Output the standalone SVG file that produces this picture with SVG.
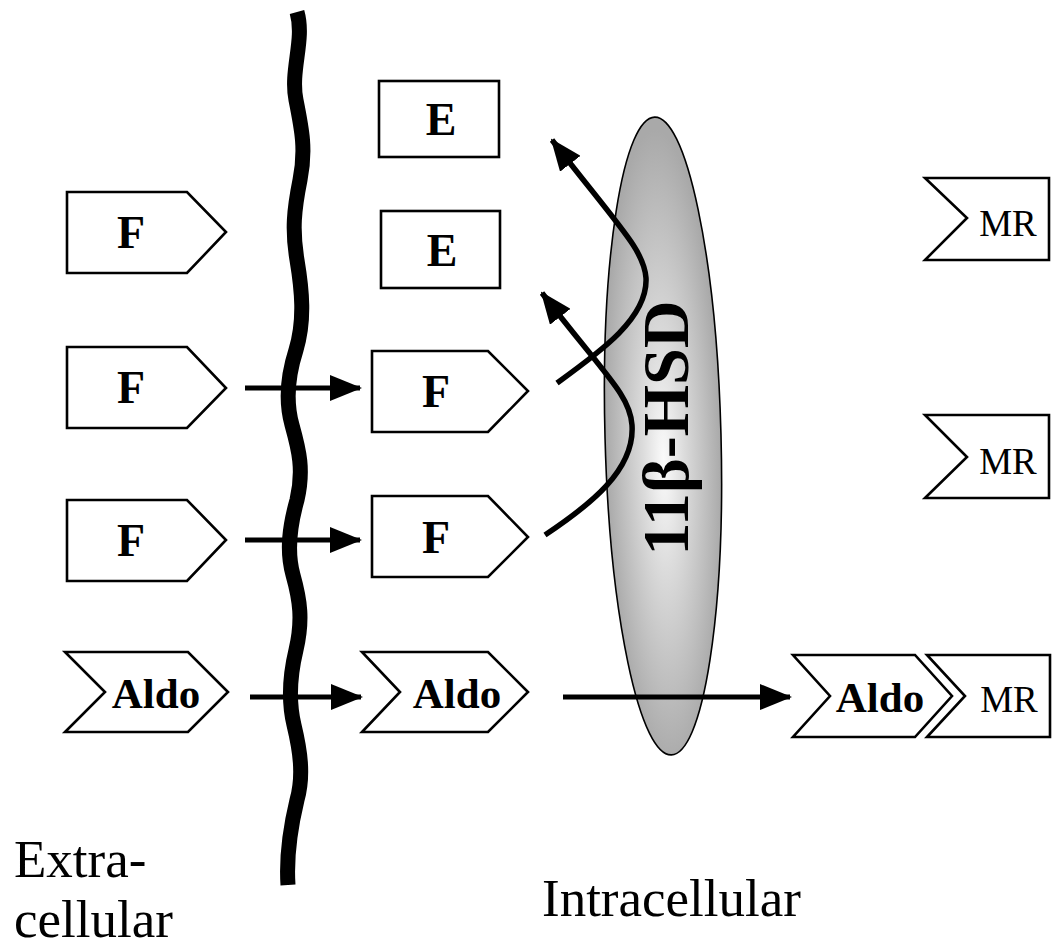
<svg xmlns="http://www.w3.org/2000/svg" width="1056" height="947" viewBox="0 0 1056 947">
  <defs>
    <radialGradient id="enzymeFill" cx="0.5" cy="0.52" r="0.5" fx="0.5" fy="0.54">
      <stop offset="0" stop-color="#fbfbfb"/>
      <stop offset="0.35" stop-color="#dcdcdc"/>
      <stop offset="0.75" stop-color="#bdbdbd"/>
      <stop offset="1" stop-color="#a9a9a9"/>
    </radialGradient>
    <marker id="head" markerUnits="userSpaceOnUse" markerWidth="32" markerHeight="26" viewBox="0 0 32 26" refX="30" refY="13" orient="auto">
      <path d="M0,0 L32,13 L0,26 Z" fill="#000"/>
    </marker>
  </defs>
  <style>
    .shape { fill: #fff; stroke: #000; stroke-width: 2.6; stroke-linejoin: miter; }
    .bold { font-family: "Liberation Serif", "Times New Roman", serif; font-weight: bold; font-size: 43px; fill: #000; text-anchor: middle; }
    .letter { font-size: 46px; }
    .reg { font-family: "Liberation Serif", "Times New Roman", serif; font-size: 37px; fill: #000; text-anchor: middle; }
    .big { font-family: "Liberation Serif", "Times New Roman", serif; font-size: 53px; fill: #000; }
    .arrow { fill: none; stroke: #000; stroke-width: 5; }
    .curve { fill: none; stroke: #000; stroke-width: 5.5; }
  </style>
  <rect width="1056" height="947" fill="#fff"/>

  <!-- cell membrane -->
  <path id="membrane" d="M297,12 C305,40 290,70 296,100 C302,130 306,150 300,180 C294,210 292,230 297,260 C302,290 305,320 296,350 C288,375 285,400 292,425 C299,450 304,470 297,500 C290,525 286,550 293,575 C300,600 303,620 296,650 C290,675 288,700 294,725 C300,750 304,775 297,800 C291,825 286,855 288,885" fill="none" stroke="#000" stroke-width="15"/>

  <!-- enzyme -->
  <g id="enzyme">
    <ellipse cx="663" cy="436" rx="58" ry="319" transform="rotate(-1.5 663 436)" fill="url(#enzymeFill)" stroke="#000" stroke-width="1.6"/>
  </g>

  <!-- extracellular steroids -->
  <g id="f-out-1">
    <polygon class="shape" points="67,192 187,192 226,232 187,273 67,273"/>
    <text class="bold letter" x="131" y="248">F</text>
  </g>
  <g id="f-out-2">
    <polygon class="shape" points="67,347 187,347 226,388 187,428 67,428"/>
    <text class="bold letter" x="131" y="403">F</text>
  </g>
  <g id="f-out-3">
    <polygon class="shape" points="67,500 187,500 226,540 187,581 67,581"/>
    <text class="bold letter" x="131" y="556">F</text>
  </g>
  <g id="aldo-out">
    <polygon class="shape" points="65,652 188,652 228,692 188,732 65,732 105,692"/>
    <text class="bold" x="156" y="708">Aldo</text>
  </g>

  <!-- intracellular steroids -->
  <g id="e-1">
    <rect class="shape" x="379" y="81" width="120" height="76"/>
    <text class="bold letter" x="441" y="135">E</text>
  </g>
  <g id="e-2">
    <rect class="shape" x="381" y="211" width="119" height="77"/>
    <text class="bold letter" x="442" y="266">E</text>
  </g>
  <g id="f-in-2">
    <polygon class="shape" points="372,351 488,351 528,391 488,432 372,432"/>
    <text class="bold letter" x="436" y="407">F</text>
  </g>
  <g id="f-in-3">
    <polygon class="shape" points="372,496 488,496 528,537 488,577 372,577"/>
    <text class="bold letter" x="436" y="553">F</text>
  </g>
  <g id="aldo-in">
    <polygon class="shape" points="362,652 488,652 528,692 488,732 362,732 400,692"/>
    <text class="bold" x="457" y="708">Aldo</text>
  </g>

  <!-- receptors -->
  <g id="mr-1">
    <polygon class="shape" points="925,178 1049,178 1049,260 925,260 967,218"/>
    <text class="reg" x="1008" y="236">MR</text>
  </g>
  <g id="mr-2">
    <polygon class="shape" points="925,415 1049,415 1049,498 925,498 967,457"/>
    <text class="reg" x="1008" y="474">MR</text>
  </g>
  <g id="aldo-mr">
    <polygon class="shape" points="793,655 915,655 952,696 915,737 793,737 830,696"/>
    <text class="bold" x="880" y="712">Aldo</text>
    <polygon class="shape" points="927,655 1050,655 1050,737 927,737 965,696"/>
    <text class="reg" x="1009" y="712">MR</text>
  </g>

  <!-- connectors -->
  <g id="connectors">
    <line class="arrow" x1="245" y1="388" x2="360" y2="388" marker-end="url(#head)"/>
    <line class="arrow" x1="245" y1="540" x2="360" y2="540" marker-end="url(#head)"/>
    <line class="arrow" x1="250" y1="697" x2="361" y2="697" marker-end="url(#head)"/>
    <line class="arrow" x1="563" y1="697" x2="790" y2="697" marker-end="url(#head)"/>
    <path class="curve" d="M557,383 C600,352 648,318 646,278 C644,250 620,228 552,140" marker-end="url(#head)"/>
    <path class="curve" d="M545,535 C590,505 635,470 632,425 C630,395 605,375 542,293" marker-end="url(#head)"/>
  </g>

  <!-- enzyme label -->
  <text id="enzyme-label" transform="translate(688 428) rotate(-90)" font-family="'Liberation Serif', 'Times New Roman', serif" font-weight="bold" font-size="66" text-anchor="middle" fill="#000">11β-HSD</text>

  <!-- compartment labels -->
  <text class="big" x="14" y="877">Extra-</text>
  <text class="big" x="14" y="937">cellular</text>
  <text class="big" x="542" y="916">Intracellular</text>
</svg>
